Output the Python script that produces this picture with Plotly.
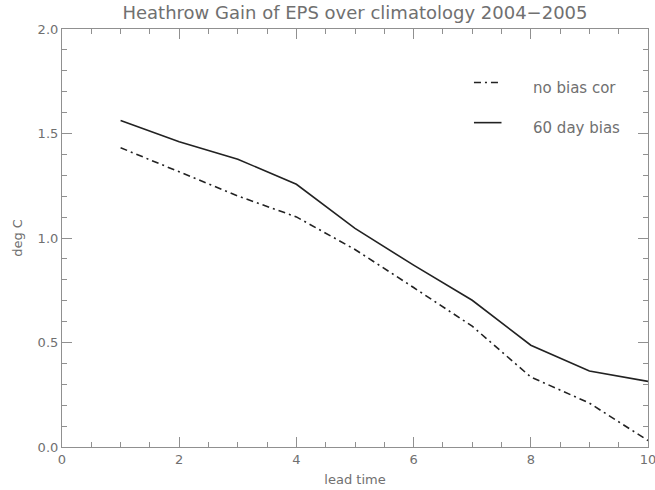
import plotly.graph_objects as go

lead_time = [1, 2, 3, 4, 5, 6, 7, 8, 9, 10]
no_bias_cor = [1.432, 1.317, 1.201, 1.101, 0.945, 0.763, 0.578, 0.335, 0.210, 0.031]
bias_60_day = [1.562, 1.461, 1.377, 1.257, 1.046, 0.870, 0.702, 0.487, 0.364, 0.314]
legend_labels = ["no bias cor", "60 day bias"]

FONT = "DejaVu Sans"
TXT = "#707070"
AX = "#909090"
LINE = "#222222"
DASHDOT = "7px,4px,2px,4px"

fig = go.Figure()
fig.add_trace(go.Scatter(x=lead_time, y=no_bias_cor, mode="lines", name=legend_labels[0],
                         line=dict(color=LINE, width=1.6, dash=DASHDOT)))
fig.add_trace(go.Scatter(x=lead_time, y=bias_60_day, mode="lines", name=legend_labels[1],
                         line=dict(color=LINE, width=1.6)))

axis_common = dict(showgrid=False, zeroline=False, showline=True, linecolor=AX, linewidth=1.2,
                   mirror="ticks", ticks="inside", tickcolor=AX, tickwidth=1, ticklen=10,
                   ticklabeloverflow="allow", automargin=False,
                   tickfont=dict(family=FONT, size=13, color=TXT))

fig.update_layout(
    width=655, height=490,
    margin=dict(l=62, r=7, t=29, b=43, autoexpand=False),
    paper_bgcolor="white", plot_bgcolor="white",
    showlegend=False,
    title=dict(text="Heathrow Gain of EPS over climatology 2004\u22122005",
               x=0.5, xref="paper", xanchor="center", y=1 - 13 / 490, yanchor="middle",
               font=dict(family=FONT, size=18, color=TXT)),
    xaxis=dict(range=[0, 10], tickmode="linear", tick0=0, dtick=2,
               title=dict(text="lead time", font=dict(family=FONT, size=13, color=TXT), standoff=9),
               minor=dict(ticks="inside", dtick=0.5, ticklen=5, tickcolor=AX, tickwidth=1),
               **axis_common),
    yaxis=dict(range=[0, 2], tickmode="linear", tick0=0, dtick=0.5, tickformat=".1f",
               title=dict(text="deg C", font=dict(family=FONT, size=13, color=TXT), standoff=12),
               minor=dict(ticks="inside", dtick=0.1, ticklen=5, tickcolor=AX, tickwidth=1),
               **axis_common),
)

# legend drawn as decoration in paper coordinates
leg_y = [0.872, 0.776]
dashes = [DASHDOT, "solid"]
for lab, yy, dsh in zip(legend_labels, leg_y, dashes):
    fig.add_shape(type="line", xref="paper", yref="paper", x0=0.703, x1=0.75, y0=yy, y1=yy,
                  line=dict(color=LINE, width=1.6, dash=dsh))
    fig.add_annotation(xref="paper", yref="paper", x=0.80, y=yy - 0.014, xanchor="left", yanchor="middle",
                       text=lab, showarrow=False, font=dict(family=FONT, size=15, color=TXT))

fig.write_html("out.html")
